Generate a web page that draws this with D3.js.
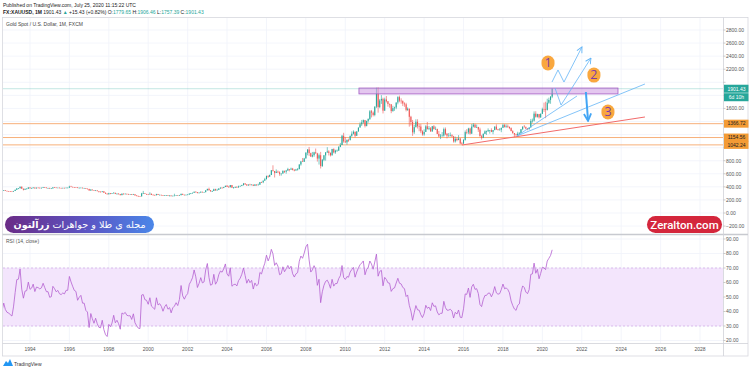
<!DOCTYPE html>
<html>
<head>
<meta charset="utf-8">
<script src="https://cdn.jsdelivr.net/npm/d3@7"></script>
<style>
body {margin:0; background:#fff;}
svg {display:block; font-family:"Liberation Sans", Arial, sans-serif;}
</style>
</head>
<body>
<svg id="chart" width="750" height="369"></svg>
<script>

// monthly XAUUSD bars, Jan 1991 .. Jul 2020 (open = previous close)
var first_month = [1991, 0];
var closes = [
	366,362,355,357,361,368,362,347,354,358,366,353,
	354,353,341,337,337,343,357,340,349,339,334,333,
	330,328,337,355,377,378,401,372,355,370,371,391,
	378,381,390,377,387,386,384,386,395,389,383,383,
	375,376,392,389,385,387,383,382,384,383,387,387,
	405,400,396,392,391,382,385,387,379,379,371,369,
	345,358,349,340,345,334,326,325,332,311,296,290,
	303,297,301,310,293,296,288,273,294,292,294,288,
	287,287,280,286,268,261,255,254,299,300,291,290,
	283,293,278,275,272,289,276,278,273,264,270,273,
	265,267,258,264,266,270,266,273,293,279,274,279,
	282,297,302,309,326,318,304,312,324,317,319,347,
	368,347,334,336,364,346,354,375,388,386,398,417,
	400,396,427,388,393,395,391,407,415,428,452,438,
	422,435,428,435,417,435,429,433,473,470,495,517,
	568,556,582,654,643,613,632,623,599,604,646,632,
	650,672,663,679,659,650,666,672,743,789,783,834,
	923,972,916,864,885,928,912,833,884,718,814,882,
	928,942,919,883,979,927,955,955,1008,1040,1182,1096,
	1081,1118,1113,1180,1213,1244,1181,1248,1307,1357,1386,1421,
	1332,1410,1439,1556,1536,1500,1628,1826,1620,1722,1746,1566,
	1737,1710,1668,1663,1560,1604,1614,1691,1773,1719,1712,1675,
	1663,1578,1596,1472,1392,1234,1313,1396,1327,1323,1250,1202,
	1240,1326,1284,1296,1250,1327,1282,1287,1210,1171,1183,1184,
	1283,1212,1183,1183,1190,1172,1095,1134,1115,1142,1065,1061,
	1118,1238,1234,1293,1215,1322,1351,1309,1316,1277,1174,1152,
	1211,1249,1249,1268,1269,1242,1269,1322,1280,1271,1275,1303,
	1345,1318,1325,1316,1299,1253,1224,1201,1192,1215,1222,1282,
	1321,1313,1292,1284,1305,1409,1413,1520,1472,1513,1464,1517,
	1589,1585,1577,1687,1730,1779.65,1901.43
];
var highs = [
	385,370,365,362,366,372,372,364,356,362,370,368,
	361,359,356,343,340,346,362,359,351,349,340,337,
	335,333,338,358,378,379,406,407,373,374,381,394,
	395,388,393,390,390,392,390,388,399,397,391,385,
	386,380,395,395,393,390,389,387,387,388,389,391,
	417,416,401,398,395,393,390,390,388,384,382,375,
	368,364,359,349,350,346,336,330,334,334,311,301,
	309,305,303,316,307,300,302,291,301,302,300,295,
	294,290,290,292,289,272,264,260,308,338,304,294,
	292,317,299,287,281,294,292,283,278,274,272,275,
	274,272,269,265,295,273,271,277,296,294,281,281,
	289,300,306,311,327,330,320,315,331,326,322,349,
	372,388,352,343,372,371,370,379,392,393,400,417,
	428,416,429,428,396,406,412,419,418,432,456,458,
	441,437,447,438,432,443,437,449,474,479,497,538,
	570,575,587,657,730,641,667,650,639,606,650,645,
	659,691,672,694,690,672,675,688,744,796,842,844,
	930,975,1011,923,934,937,986,921,910,935,827,888,
	931,1007,961,928,982,990,968,972,1024,1072,1194,1227,
	1162,1126,1137,1186,1249,1265,1244,1252,1309,1387,1424,1431,
	1424,1411,1447,1575,1577,1555,1632,1917,1921,1745,1803,1765,
	1764,1790,1712,1676,1666,1641,1627,1691,1788,1796,1755,1724,
	1694,1686,1616,1598,1487,1424,1348,1434,1434,1362,1361,1267,
	1280,1344,1392,1331,1315,1332,1345,1323,1288,1255,1208,1238,
	1307,1308,1224,1224,1232,1205,1180,1169,1156,1191,1142,1088,
	1129,1263,1283,1304,1304,1362,1375,1366,1353,1318,1305,1194,
	1219,1264,1261,1295,1270,1296,1270,1326,1357,1288,1299,1306,
	1366,1362,1356,1354,1326,1310,1266,1215,1214,1243,1237,1284,
	1326,1346,1324,1300,1306,1439,1445,1555,1557,1519,1516,1525,
	1611,1689,1703,1748,1765,1789,1906.46
];
var lows = [
	356,355,352,354,354,358,360,345,345,352,357,352,
	350,351,341,336,334,336,342,338,338,338,332,331,
	326,326,326,336,353,365,376,370,345,353,366,370,
	373,374,378,371,374,382,378,377,383,385,380,375,
	372,372,374,386,383,385,382,379,381,382,382,385,
	384,400,395,389,390,381,381,384,378,377,369,366,
	341,338,345,338,338,334,314,317,317,307,293,283,
	278,288,291,300,289,284,285,271,273,286,290,284,
	284,284,276,278,268,257,252,253,253,290,290,281,
	280,283,277,274,270,271,276,273,270,263,263,266,
	262,255,255,257,262,265,264,264,271,277,272,273,
	278,281,289,299,307,313,303,301,311,314,315,317,
	345,345,325,321,336,342,344,351,371,374,380,397,
	398,391,390,383,372,384,389,389,404,411,420,428,
	416,418,423,424,414,414,416,424,432,461,456,491,
	515,538,550,580,633,543,612,612,570,571,601,613,
	601,646,637,663,652,638,648,649,668,724,783,783,
	835,883,874,858,851,860,908,787,741,681,705,793,
	801,920,880,865,878,913,905,938,950,1016,1040,1075,
	1073,1044,1089,1115,1165,1201,1157,1181,1243,1308,1331,1367,
	1309,1325,1382,1423,1462,1478,1480,1605,1535,1604,1669,1523,
	1563,1691,1627,1611,1527,1549,1564,1588,1663,1694,1672,1636,
	1625,1555,1562,1321,1337,1180,1208,1310,1293,1251,1221,1182,
	1182,1240,1277,1268,1240,1240,1281,1273,1206,1160,1131,1170,
	1168,1191,1142,1170,1170,1162,1077,1077,1098,1135,1052,1046,
	1061,1107,1207,1207,1199,1208,1310,1301,1302,1241,1171,1123,
	1146,1208,1195,1244,1214,1237,1205,1266,1271,1261,1264,1236,
	1302,1307,1303,1302,1282,1251,1211,1160,1180,1183,1196,1221,
	1266,1311,1281,1266,1274,1323,1382,1400,1459,1459,1445,1454,
	1517,1547,1451,1567,1670,1671,1757.39
];

var price_ticks = [-200,0,200,400,600,800,1000,1200,1400,1600,1800,2000,2200,2400,2600,2800];
var rsi_ticks = [20,30,40,50,60,70,80,90];
var rsi_band = [30,70];
var rsi_length = 14;

// drawings (date, price)
var h_levels = [1366.72, 1154.56, 1042.24];
var last_price = 1901.43;
var countdown = '6d 10h';
var zone_dates = ['2010-09-11','2023-11-03'];
var zone_prices = [1822, 1912];
var red_trend = [['2015-12-01',1040],['2025-03-17',1469]];
var fan_origin = ['2018-09-17',1178];
var fan_ends = [['2025-03-17',1974],['2021-10-04',1790]];
var path_1 = [['2020-06-28',2004],['2020-10-17',2188],['2021-02-05',2004],['2022-01-04',2540]];
var path_2 = [['2020-08-22',1912],['2020-12-13',1652],['2022-06-20',2371]];
var drop_arrow = [['2022-03-18',1851],['2022-04-26',1423]];
var marker_labels = ['1','2','3'];
var marker_dates = ['2020-04-15','2022-08-14','2023-05-01'];
var marker_prices = [2295, 2111, 1545];

var svg = d3.select('#chart');
var W = 750, H = 369;
var pane_l = 3, pane_r = 723;
var main_top = 18, main_bot = 234;
var rsi_top = 235, rsi_bot = 343;
var axis_bot = 356;
var fs = 5;

svg.append('rect').attr('width',W).attr('height',H).attr('fill','#fff');

var parse = d3.utcParse('%Y-%m-%d');
var bars = closes.map(function(c,i) {
	return {
		date: new Date(Date.UTC(first_month[0], first_month[1]+i, 1)),
		open: i>0 ? closes[i-1] : c,
		high: highs[i], low: lows[i], close: c
	};
});

var x = d3.scaleUtc()
	.domain([new Date(Date.UTC(1994,0,1)), new Date(Date.UTC(2028,0,1))])
	.range([30, 700]);
var y = d3.scaleLinear().domain([0,2800]).range([213,30]);
var yr = d3.scaleLinear().domain([30,90]).range([326,239]);

// RSI (Wilder)
function compute_rsi(c, n) {
	var out = [], ag = 0, al = 0;
	for (var i=1; i<c.length; i++) {
		var d = c[i]-c[i-1];
		var g = Math.max(d,0), l = Math.max(-d,0);
		if (i<=n) {
			ag += g/n; al += l/n;
			if (i<n) continue;
		}
		else {
			ag = (ag*(n-1)+g)/n;
			al = (al*(n-1)+l)/n;
		}
		out.push({date: bars[i].date, v: al==0 ? 100 : 100-100/(1+ag/al)});
	}
	return out;
}
var rsi = compute_rsi(closes, rsi_length);

var defs = svg.append('defs');
defs.append('clipPath').attr('id','clipMain').append('rect')
	.attr('x',pane_l).attr('y',main_top).attr('width',pane_r-pane_l).attr('height',main_bot-main_top);
defs.append('clipPath').attr('id','clipRsi').append('rect')
	.attr('x',pane_l).attr('y',rsi_top).attr('width',pane_r-pane_l).attr('height',rsi_bot-rsi_top);
var grad = defs.append('linearGradient').attr('id','badgeGrad').attr('x1','0%').attr('x2','100%');
grad.append('stop').attr('offset','0%').attr('stop-color','#6a2b86');
grad.append('stop').attr('offset','55%').attr('stop-color','#5b55c4');
grad.append('stop').attr('offset','100%').attr('stop-color','#4a86e8');
var mk = defs.append('marker').attr('id','arrowThin').attr('viewBox','0 0 10 10')
	.attr('refX',9).attr('refY',5).attr('markerWidth',7).attr('markerHeight',7)
	.attr('markerUnits','userSpaceOnUse').attr('orient','auto');
mk.append('path').attr('d','M1,1 L9,5 L1,9').attr('fill','none').attr('stroke','#64b5f6').attr('stroke-width',1.3);
var mk2 = defs.append('marker').attr('id','arrowThick').attr('viewBox','0 0 10 10')
	.attr('refX',8).attr('refY',5).attr('markerWidth',9).attr('markerHeight',9)
	.attr('markerUnits','userSpaceOnUse').attr('orient','auto');
mk2.append('path').attr('d','M1,1 L9,5 L1,9').attr('fill','none').attr('stroke','#42a5f5').attr('stroke-width',2);

// header
svg.append('text').attr('x',3).attr('y',6.5).attr('font-size',fs).attr('fill','#222')
	.text('Published on TradingView.com, July 25, 2020 11:15:22 UTC');
var hdr = svg.append('text').attr('x',3).attr('y',14).attr('font-size',fs).attr('fill','#222');
hdr.append('tspan').attr('font-weight','bold').text('FX:XAUUSD, 1M ');
hdr.append('tspan').text('1901.43 ');
hdr.append('tspan').attr('fill','#26a69a').text('\u25B2 ');
hdr.append('tspan').text('+15.43 (+0.82%) O:');
hdr.append('tspan').attr('fill','#26a69a').text('1779.65 ');
hdr.append('tspan').text('H:');
hdr.append('tspan').attr('fill','#26a69a').text('1906.46 ');
hdr.append('tspan').text('L:');
hdr.append('tspan').attr('fill','#26a69a').text('1757.39 ');
hdr.append('tspan').text('C:');
hdr.append('tspan').attr('fill','#26a69a').text('1901.43');

// grid
var year_ticks = x.ticks(d3.utcYear.every(2));
var grid = svg.append('g').attr('stroke','#f0f3fa').attr('stroke-width',0.8);
year_ticks.forEach(function(t) {
	grid.append('line').attr('x1',x(t)).attr('x2',x(t)).attr('y1',main_top).attr('y2',rsi_bot);
});
price_ticks.forEach(function(p) {
	if (y(p) > main_top && y(p) < main_bot)
		grid.append('line').attr('x1',pane_l).attr('x2',pane_r).attr('y1',y(p)).attr('y2',y(p));
});
rsi_ticks.forEach(function(v) {
	if (yr(v) > rsi_top && yr(v) < rsi_bot)
		grid.append('line').attr('x1',pane_l).attr('x2',pane_r).attr('y1',yr(v)).attr('y2',yr(v));
});

// main pane
var mainG = svg.append('g').attr('clip-path','url(#clipMain)');

mainG.append('line').attr('x1',pane_l).attr('x2',pane_r).attr('y1',y(last_price)).attr('y2',y(last_price))
	.attr('stroke','#26a69a').attr('stroke-opacity',0.35).attr('stroke-width',0.8);

h_levels.forEach(function(p) {
	mainG.append('line').attr('x1',pane_l).attr('x2',pane_r).attr('y1',y(p)).attr('y2',y(p))
		.attr('stroke','#f7b07a').attr('stroke-width',1);
});

var bw = Math.max(1, (x(bars[1].date)-x(bars[0].date))*0.62);
var candles = mainG.append('g').selectAll('g').data(bars).enter().append('g');
candles.append('line')
	.attr('x1',function(d){return x(d.date);}).attr('x2',function(d){return x(d.date);})
	.attr('y1',function(d){return y(d.high);}).attr('y2',function(d){return y(d.low);})
	.attr('stroke',function(d){return d.close>=d.open ? '#26a69a' : '#ef5350';})
	.attr('stroke-width',0.6);
candles.append('rect')
	.attr('x',function(d){return x(d.date)-bw/2;})
	.attr('width',bw)
	.attr('y',function(d){return y(Math.max(d.open,d.close));})
	.attr('height',function(d){return Math.max(0.6, Math.abs(y(d.open)-y(d.close)));})
	.attr('fill',function(d){return d.close>=d.open ? '#26a69a' : '#ef5350';});

// zone
mainG.append('rect')
	.attr('x',x(parse(zone_dates[0]))).attr('width',x(parse(zone_dates[1]))-x(parse(zone_dates[0])))
	.attr('y',y(zone_prices[1])).attr('height',y(zone_prices[0])-y(zone_prices[1]))
	.attr('fill','#c98fe0').attr('fill-opacity',0.5)
	.attr('stroke','#a45cc4').attr('stroke-width',0.8);

var pt = function(a) { return [x(parse(a[0])), y(a[1])]; };
var line_gen = d3.line();

mainG.append('path').attr('d',line_gen(red_trend.map(pt)))
	.attr('fill','none').attr('stroke','#f26b6b').attr('stroke-width',1);

fan_ends.forEach(function(e) {
	mainG.append('path').attr('d',line_gen([pt(fan_origin), pt(e)]))
		.attr('fill','none').attr('stroke','#64b5f6').attr('stroke-width',0.8);
});
[path_1, path_2].forEach(function(p) {
	mainG.append('path').attr('d',line_gen(p.map(pt)))
		.attr('fill','none').attr('stroke','#64b5f6').attr('stroke-width',0.8)
		.attr('marker-end','url(#arrowThin)');
});
mainG.append('path').attr('d',line_gen(drop_arrow.map(pt)))
	.attr('fill','none').attr('stroke','#42a5f5').attr('stroke-width',2)
	.attr('marker-end','url(#arrowThick)');

marker_labels.forEach(function(lbl,i) {
	var cx = x(parse(marker_dates[i])), cy = y(marker_prices[i]);
	mainG.append('rect').attr('x',cx-6.5).attr('y',cy-7.5).attr('width',13).attr('height',15)
		.attr('rx',6.5).attr('fill','#f9a73e');
	mainG.append('text').attr('x',cx).attr('y',cy+4.2).attr('text-anchor','middle')
		.attr('font-size',12.5).attr('fill','#7e3aa8').attr('font-family','"Open Sans", sans-serif')
		.text(lbl);
});

// RSI pane
var rsiG = svg.append('g').attr('clip-path','url(#clipRsi)');
rsiG.append('rect').attr('x',pane_l).attr('width',pane_r-pane_l)
	.attr('y',yr(rsi_band[1])).attr('height',yr(rsi_band[0])-yr(rsi_band[1]))
	.attr('fill','#f3e5fc');
rsi_band.forEach(function(v) {
	rsiG.append('line').attr('x1',pane_l).attr('x2',pane_r).attr('y1',yr(v)).attr('y2',yr(v))
		.attr('stroke','#cfa6e4').attr('stroke-width',0.7).attr('stroke-dasharray','2,2');
});
rsiG.append('path').datum(rsi)
	.attr('d',d3.line().x(function(d){return x(d.date);}).y(function(d){return yr(d.v);}))
	.attr('fill','none').attr('stroke','#b45fd0').attr('stroke-width',0.8);

// frame
var frame = svg.append('g').attr('fill','none');
frame.append('rect').attr('x',2.5).attr('y',17.5).attr('width',745.5).attr('height',axis_bot-17.5)
	.attr('stroke','#d6d8de').attr('stroke-width',0.8);
frame.append('line').attr('x1',2.5).attr('x2',748).attr('y1',main_bot+0.5).attr('y2',main_bot+0.5)
	.attr('stroke','#c8cad0').attr('stroke-width',1.5);
frame.append('line').attr('x1',2.5).attr('x2',748).attr('y1',rsi_bot+0.5).attr('y2',rsi_bot+0.5)
	.attr('stroke','#d0d2d8').attr('stroke-width',0.8);
frame.append('line').attr('x1',pane_r+0.5).attr('x2',pane_r+0.5).attr('y1',17.5).attr('y2',axis_bot)
	.attr('stroke','#d0d2d8').attr('stroke-width',0.8);

// price tags positions (tick labels hidden under them)
var tag_ys = [y(last_price), y(last_price)+8.5].concat(h_levels.map(function(p){return y(p);}));
function under_tag(yy) {
	return tag_ys.some(function(t){ return Math.abs(t-yy) < 6.5; });
}

// price axis
var pax = svg.append('g').attr('font-size',fs).attr('fill','#555');
price_ticks.forEach(function(p) {
	var yy = y(p);
	if (yy < main_top+3 || yy > main_bot-2) return;
	pax.append('line').attr('x1',pane_r+0.5).attr('x2',pane_r+2.5).attr('y1',yy).attr('y2',yy)
		.attr('stroke','#999').attr('stroke-width',0.5);
	if (under_tag(yy)) return;
	pax.append('text').attr('x',726).attr('y',yy+1.8).text(d3.format('.2f')(p));
});
var rax = svg.append('g').attr('font-size',fs).attr('fill','#555');
rsi_ticks.forEach(function(v) {
	var yy = yr(v);
	if (yy < rsi_top+2 || yy > rsi_bot+3) return;
	rax.append('line').attr('x1',pane_r+0.5).attr('x2',pane_r+2.5).attr('y1',yy).attr('y2',yy)
		.attr('stroke','#999').attr('stroke-width',0.5);
	rax.append('text').attr('x',726).attr('y',yy+1.8).text(d3.format('.2f')(v));
});

// price tags
function tag(yy, label, bg, fg) {
	svg.append('rect').attr('x',pane_r+1).attr('y',yy-4).attr('width',24.5).attr('height',8)
		.attr('fill',bg);
	svg.append('text').attr('x',pane_r+13.5).attr('y',yy+1.8).attr('text-anchor','middle')
		.attr('font-size',fs).attr('fill',fg).text(label);
}
tag(tag_ys[0], d3.format('.2f')(last_price), '#26a69a', '#fff');
tag(tag_ys[1], countdown, '#26a69a', '#fff');
h_levels.forEach(function(p) { tag(y(p), d3.format('.2f')(p), '#f39b35', '#222'); });

// time axis
var tax = svg.append('g').attr('font-size',fs).attr('fill','#555').attr('text-anchor','middle');
year_ticks.forEach(function(t) {
	tax.append('text').attr('x',x(t)).attr('y',350.5).text(d3.utcFormat('%Y')(t));
});

// pane titles
svg.append('text').attr('x',6).attr('y',26).attr('font-size',fs).attr('fill','#444')
	.text('Gold Spot / U.S. Dollar, 1M, FXCM');
svg.append('text').attr('x',6).attr('y',242.5).attr('font-size',fs).attr('fill','#555')
	.text('RSI (14, close)');

// badges
svg.append('rect').attr('x',5).attr('y',216).attr('width',149).attr('height',17).attr('rx',8.5)
	.attr('fill','url(#badgeGrad)');
var ar = svg.append('text').attr('x',79.5).attr('y',228).attr('text-anchor','middle')
	.attr('direction','rtl').attr('font-family','"DejaVu Sans", sans-serif')
	.attr('font-size',9.6).attr('fill','#fff');
ar.append('tspan').text('مجله ی طلا و جواهرات ');
ar.append('tspan').attr('font-weight','bold').text('زرآلتون');

svg.append('rect').attr('x',647).attr('y',216).attr('width',75).attr('height',17).attr('rx',8.5)
	.attr('fill','#d4263c');
svg.append('text').attr('x',684.5).attr('y',228.5).attr('text-anchor','middle')
	.attr('font-family','Roboto, sans-serif').attr('font-weight',500)
	.attr('font-size',11.5).attr('fill','#fff').text('Zeralton.com');

// footer logo
var logo = svg.append('g').attr('transform','translate(3,359)');
logo.append('path').attr('d','M0,7 L3,2 L5,4 L7,0 L10,7 Z').attr('fill','#2196f3');
svg.append('text').attr('x',14).attr('y',365.5).attr('font-size',fs).attr('fill','#333').text('TradingView');

</script>
</body>
</html>
